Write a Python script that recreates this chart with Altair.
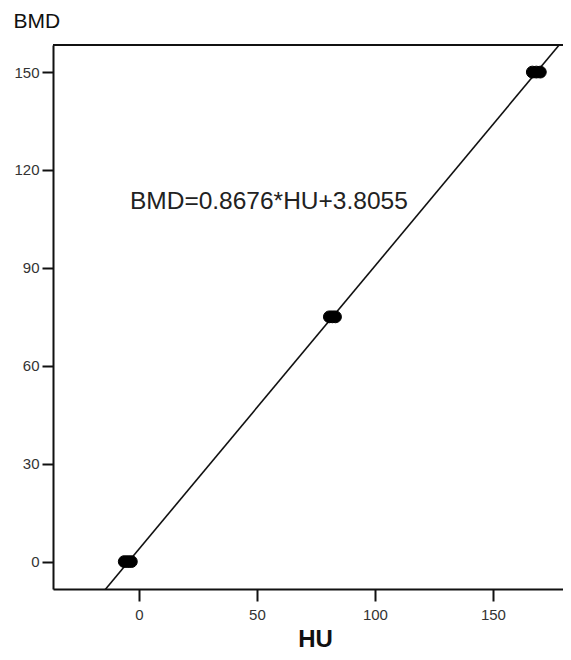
import altair as alt
import pandas as pd

# data
hu_values = [-6.2, -4.7, -3.2, 80.7, 82.0, 83.3, 166.7, 168.4, 170.1]
bmd_values = [0, 0, 0, 75, 75, 75, 150, 150, 150]
slope = 0.8676
intercept = 3.8055
x_domain = [-36.4, 179.7]
y_domain = [-8.4, 158.3]
x_ticks = [0, 50, 100, 150]
y_ticks = [0, 30, 60, 90, 120, 150]
equation = "BMD=0.8676*HU+3.8055"
eq_pos = {"HU": -3.8, "BMD": 108.0}

points = pd.DataFrame({"HU": hu_values, "BMD": bmd_values})
line_df = pd.DataFrame({
    "HU": x_domain,
    "BMD": [slope * v + intercept for v in x_domain],
})
eq_df = pd.DataFrame({"HU": [eq_pos["HU"]], "BMD": [eq_pos["BMD"]], "label": [equation]})

W, H = 510, 544
FONT = "Liberation Sans"

x_scale = alt.Scale(domain=x_domain, nice=False, zero=False)
y_scale = alt.Scale(domain=y_domain, nice=False, zero=False)

x_axis = alt.Axis(
    values=x_ticks, title="HU", grid=False,
    domainColor="#111", domainWidth=2, tickColor="#111", tickWidth=2, tickSize=12,
    labelFont=FONT, labelFontSize=15, labelColor="#333", labelPadding=6,
    titleFont=FONT, titleFontSize=24, titleFontWeight="bold", titleColor="#111",
    titleX=262, titleY=57, titleBaseline="alphabetic",
)
y_axis = alt.Axis(
    values=y_ticks, title="BMD", grid=False,
    domainColor="#111", domainWidth=2, tickColor="#111", tickWidth=2, tickSize=11,
    labelFont=FONT, labelFontSize=15, labelColor="#333", labelPadding=3,
    titleFont=FONT, titleFontSize=21, titleFontWeight="normal", titleColor="#111",
    titleAngle=0, titleX=-40, titleY=-18, titleAlign="left", titleBaseline="alphabetic",
)

base_x = alt.X("HU:Q", scale=x_scale, axis=x_axis)
base_y = alt.Y("BMD:Q", scale=y_scale, axis=y_axis)

line = alt.Chart(line_df).mark_line(color="#111", strokeWidth=1.6, clip=True).encode(
    x=base_x, y=base_y
)
pts = alt.Chart(points).mark_point(
    shape="circle", filled=True, color="#000", size=140, opacity=1,
    stroke="#000", strokeWidth=1,
).encode(x="HU:Q", y="BMD:Q")
txt = alt.Chart(eq_df).mark_text(
    align="left", baseline="alphabetic", font=FONT, fontSize=24.5, color="#222"
).encode(x="HU:Q", y="BMD:Q", text="label:N")
top_border = alt.Chart(eq_df).mark_rule(color="#111", strokeWidth=2).encode(
    x=alt.value(0), x2=alt.value(W), y=alt.value(0)
)

chart = alt.layer(line, pts, txt, top_border).properties(
    width=W, height=H,
    autosize=alt.AutoSizeParams(type="none"),
    padding={"left": 45, "top": 37, "right": 0, "bottom": 62},
).configure_view(stroke=None).configure(background="white")

chart.save("out.html", embed_options={"renderer": "svg", "actions": False})
